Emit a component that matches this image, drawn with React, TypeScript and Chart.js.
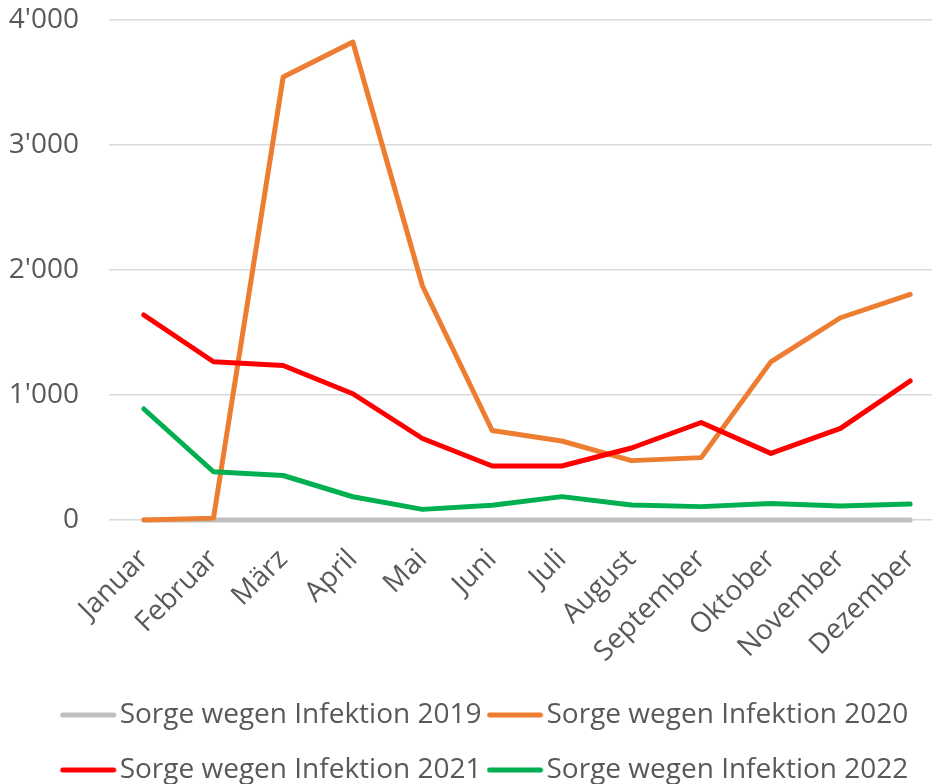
import React, { useEffect, useRef } from "react";
import { Chart, registerables } from "chart.js";

Chart.register(...registerables);

const months = [
  "Januar", "Februar", "März", "April", "Mai", "Juni",
  "Juli", "August", "September", "Oktober", "November", "Dezember",
];

const seriesLabels = [
  "Sorge wegen Infektion 2019",
  "Sorge wegen Infektion 2020",
  "Sorge wegen Infektion 2021",
  "Sorge wegen Infektion 2022",
];

const values2019 = [0, 0, 0, 0, 0, 0, 0, 0, 0, 0, 0, 0];
const values2020 = [0, 15, 3544, 3824, 1872, 716, 632, 475, 499, 1265, 1618, 1805];
const values2021 = [1640, 1266, 1236, 1010, 652, 432, 432, 576, 780, 533, 733, 1112];
const values2022 = [888, 386, 356, 186, 85, 118, 187, 120, 107, 132, 112, 128];

const colors = ["#BFBFBF", "#ED7D31", "#FF0000", "#00B050"];

const yTicks = [0, 1000, 2000, 3000, 4000];

const FONT = "'Open Sans', sans-serif";
const TEXT = "#595959";

function fmt(v: number): string {
  const s = String(Math.round(v));
  return s.replace(/\B(?=(\d{3})+(?!\d))/g, "'");
}

function makeMarker(color: string): HTMLCanvasElement {
  const c = document.createElement("canvas");
  c.width = 68;
  c.height = 8;
  const ctx = c.getContext("2d");
  if (ctx) {
    ctx.strokeStyle = color;
    ctx.lineWidth = 5;
    ctx.lineCap = "round";
    ctx.beginPath();
    ctx.moveTo(3, 4);
    ctx.lineTo(54, 4);
    ctx.stroke();
  }
  return c;
}

export default function App() {
  const ref = useRef<HTMLCanvasElement | null>(null);

  useEffect(() => {
    if (!ref.current) return;
    const all = [values2019, values2020, values2021, values2022];
    const markers = colors.map((c) => makeMarker(c));
    const chart = new Chart(ref.current, {
      type: "line",
      data: {
        labels: months,
        datasets: all.map((d, i) => ({
          label: seriesLabels[i],
          data: d,
          borderColor: colors[i],
          backgroundColor: colors[i],
          borderWidth: 5,
          borderCapStyle: "round" as const,
          borderJoinStyle: "round" as const,
          pointRadius: 0,
          pointHoverRadius: 0,
          tension: 0,
          clip: 8,
          order: 4 - i,
        })),
      },
      options: {
        responsive: false,
        animation: false,
        layout: { padding: { top: 20, left: 0, right: 0, bottom: 0 } },
        plugins: {
          tooltip: { enabled: false },
          legend: {
            position: "bottom",
            labels: {
              usePointStyle: true,
              pointStyleWidth: 24,
              padding: 27,
              color: TEXT,
              font: { family: FONT, size: 28 },
              sort: (a: any, b: any) => a.datasetIndex - b.datasetIndex,
              generateLabels: (c: any) => {
                const items = Chart.defaults.plugins.legend.labels.generateLabels(c);
                return items.map((it: any) => ({
                  ...it,
                  lineWidth: 5,
                  pointStyle: markers[it.datasetIndex],
                  strokeStyle: colors[it.datasetIndex],
                  fillStyle: colors[it.datasetIndex],
                }));
              },
            },
          },
        },
        scales: {
          x: {
            offset: true,
            grid: { display: false },
            border: { display: false },
            ticks: {
              autoSkip: false,
              maxRotation: 45,
              minRotation: 45,
              padding: 15,
              color: TEXT,
              font: { family: FONT, size: 28 },
            },
            afterFit: (s: any) => {
              s.height = 154;
            },
          },
          y: {
            min: 0,
            max: 4000,
            afterBuildTicks: (s: any) => {
              s.ticks = yTicks.map((v) => ({ value: v }));
            },
            grid: { color: "#D9D9D9", lineWidth: 1.5, drawTicks: false },
            border: { display: false },
            ticks: {
              padding: 30,
              color: TEXT,
              font: { family: FONT, size: 28 },
              callback: (v: any) => fmt(Number(v)),
            },
            afterFit: (s: any) => {
              s.width = 109;
              s.paddingTop = 0;
              s.paddingBottom = 0;
            },
          },
          yR: {
            position: "right",
            display: true,
            grid: { display: false },
            border: { display: false },
            ticks: { display: false },
            afterFit: (s: any) => {
              s.width = 45;
              s.paddingTop = 0;
              s.paddingBottom = 0;
            },
          },
        },
      },
    });
    return () => chart.destroy();
  }, []);

  return (
    <div
      style={{
        position: "fixed",
        left: 0,
        top: 0,
        width: 932,
        height: 784,
        overflow: "hidden",
        background: "#ffffff",
      }}
    >
      <canvas ref={ref} width={990} height={794} style={{ display: "block" }} />
    </div>
  );
}
